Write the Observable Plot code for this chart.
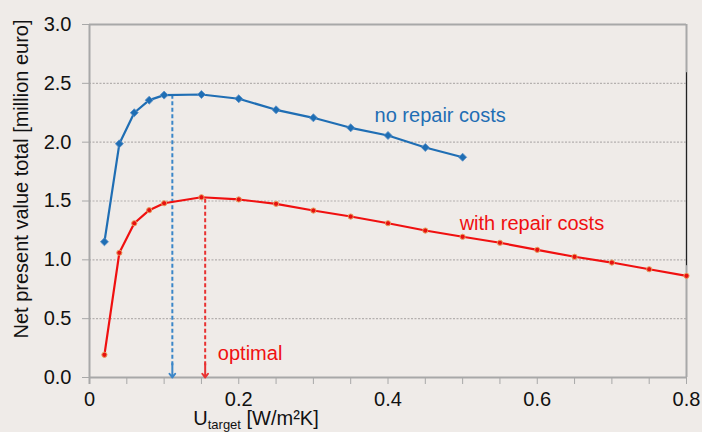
<!DOCTYPE html>
<html>
<head>
<meta charset="utf-8">
<script src="https://cdn.jsdelivr.net/npm/d3@7"></script>
<script src="https://cdn.jsdelivr.net/npm/@observablehq/plot@0.6"></script>
<style>
  html, body { margin: 0; padding: 0; background: #EFEBE8; }
  svg { font-family: "Liberation Sans", Arial, sans-serif; }
</style>
</head>
<body>
<div id="chart"></div>
<script>
// Data
const uNoRepair = [0.02, 0.04, 0.06, 0.08, 0.10, 0.15, 0.20, 0.25, 0.30, 0.35, 0.40, 0.45, 0.50];
const npvNoRepair = [1.153, 1.986, 2.25, 2.357, 2.40, 2.405, 2.369, 2.275, 2.207, 2.122, 2.057, 1.955, 1.872];
const uRepair = [0.02, 0.04, 0.06, 0.08, 0.10, 0.15, 0.20, 0.25, 0.30, 0.35, 0.40, 0.45, 0.50, 0.55, 0.60, 0.65, 0.70, 0.75, 0.80];
const npvRepair = [0.193, 1.06, 1.311, 1.422, 1.481, 1.532, 1.513, 1.476, 1.419, 1.368, 1.311, 1.249, 1.196, 1.145, 1.085, 1.026, 0.977, 0.92, 0.864];
const optimumNoRepair = {u: 0.111, top: 2.39};
const optimumRepair = {u: 0.155, top: 1.52};
const yTicks = [0, 0.5, 1.0, 1.5, 2.0, 2.5, 3.0];
const xLabelTicks = [0, 0.2, 0.4, 0.6, 0.8];
const xMinorTicks = d3.range(0, 0.8001, 0.05);
const gridValues = [0.5, 1.0, 1.5, 2.0, 2.5];
const seriesLabels = [
  {u: 0.382, v: 2.23, text: "no repair costs", color: "#1F6EB4"},
  {u: 0.496, v: 1.304, text: "with repair costs", color: "#F01010"},
  {u: 0.172, v: 0.199, text: "optimal", color: "#F01010"}
];

const blue = "#1F6EB4";
const red = "#F01010";
const axisGray = "#A8A8A8";

const noRepair = uNoRepair.map((u, i) => ({u, v: npvNoRepair[i]}));
const repair = uRepair.map((u, i) => ({u, v: npvRepair[i]}));

const plot = Plot.plot({
  width: 702,
  height: 432,
  marginLeft: 89,
  marginRight: 16,
  marginTop: 24,
  marginBottom: 55,
  style: {background: "#EFEBE8", fontFamily: "Liberation Sans, Arial, sans-serif", fontSize: "20px", color: "#111"},
  x: {domain: [0, 0.8]},
  y: {domain: [0, 3]},
  marks: [
    // grid
    Plot.ruleY(gridValues, {stroke: "#B4B0AE", strokeWidth: 1.2, strokeDasharray: "2,1.5"}),
    // frame
    Plot.ruleY([3], {stroke: axisGray, strokeWidth: 2}),
    Plot.ruleX([0.8], {y1: 0, y2: 3, stroke: axisGray, strokeWidth: 2}),
    Plot.ruleX([0.8], {y1: 0.95, y2: 2.59, stroke: "#222", strokeWidth: 1}),
    // axes
    Plot.axisY({ticks: yTicks, tickSize: 7, tickPadding: 11, tickFormat: d => d.toFixed(1), stroke: axisGray, label: null, fontSize: 20}),
    Plot.axisX({ticks: xMinorTicks, tickSize: 7, tickFormat: () => "", stroke: axisGray, label: null}),
    Plot.axisX({ticks: xLabelTicks, tickSize: 0, tickPadding: 14, tickFormat: d => d === 0 ? "0" : d.toFixed(1), label: null, fontSize: 20}),
    Plot.ruleX([0], {y1: -0.06, y2: 3, stroke: axisGray, strokeWidth: 2}),
    Plot.ruleY([0], {stroke: axisGray, strokeWidth: 2}),
    // optimum dashed lines
    Plot.ruleX([optimumNoRepair], {x: "u", y1: 0.1, y2: "top", stroke: "#3B86C8", strokeWidth: 2, strokeDasharray: "4,2.5"}),
    Plot.arrow([optimumNoRepair], {x1: "u", x2: "u", y1: 0.12, y2: 0, stroke: "#3B86C8", strokeWidth: 2, headLength: 9, headAngle: 75}),
    Plot.ruleX([optimumRepair], {x: "u", y1: 0.1, y2: "top", stroke: "#E83232", strokeWidth: 2, strokeDasharray: "4,2.5"}),
    Plot.arrow([optimumRepair], {x1: "u", x2: "u", y1: 0.12, y2: 0, stroke: "#E83232", strokeWidth: 2, headLength: 9, headAngle: 75}),
    // series
    Plot.line(noRepair, {x: "u", y: "v", stroke: blue, strokeWidth: 2.2}),
    Plot.dot(noRepair, {x: "u", y: "v", symbol: "square", rotate: 45, r: 3.2, fill: blue, stroke: "#5A90C8", strokeWidth: 0.8}),
    Plot.line(repair, {x: "u", y: "v", stroke: red, strokeWidth: 2.2}),
    Plot.dot(repair, {x: "u", y: "v", r: 2.6, fill: "#E81010", stroke: "#E8A060", strokeWidth: 1}),
    // labels
    Plot.text(seriesLabels, {x: "u", y: "v", text: "text", fill: "color", textAnchor: "start", fontSize: 20})
  ]
});

const svg = d3.select(plot);
// y axis title
svg.append("text")
  .attr("transform", "translate(28,179) rotate(-90)")
  .attr("text-anchor", "middle")
  .attr("font-size", 20)
  .attr("fill", "#111")
  .text("Net present value total [million euro]");
// x axis title with subscript
const xt = svg.append("text")
  .attr("x", 256).attr("y", 425)
  .attr("font-size", 20)
  .attr("fill", "#111");
xt.append("tspan").text("U");
xt.append("tspan").attr("font-size", 13).attr("dy", 4).text("target");
xt.append("tspan").attr("dy", -4).text(" [W/m²K]");

document.getElementById("chart").appendChild(plot);
</script>
</body>
</html>
